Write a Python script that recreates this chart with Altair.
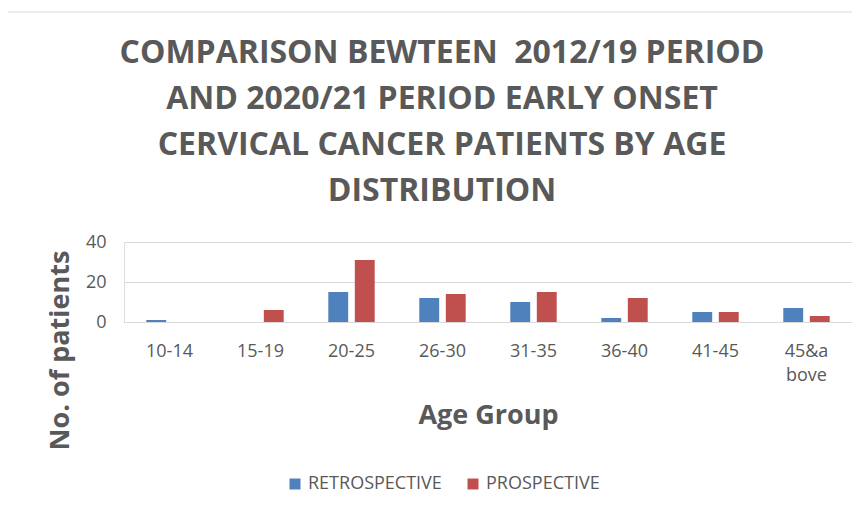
import altair as alt
import pandas as pd

categories = ["10-14", "15-19", "20-25", "26-30", "31-35", "36-40", "41-45", "45&above"]
retrospective = [1, 0, 15, 12, 10, 2, 5, 7]
prospective = [0, 6, 31, 14, 15, 12, 5, 3]
series = ["RETROSPECTIVE", "PROSPECTIVE"]
title_lines = [
    "COMPARISON BEWTEEN\u00a0 2012/19 PERIOD",
    "AND 2020/21 PERIOD EARLY ONSET",
    "CERVICAL CANCER PATIENTS BY AGE",
    "DISTRIBUTION",
]

rows = []
for c, r, p in zip(categories, retrospective, prospective):
    rows.append({"age": c, "series": series[0], "value": r})
    rows.append({"age": c, "series": series[1], "value": p})
df = pd.DataFrame(rows)

GRAY = "#595959"
FONT = "Open Sans"

bars = alt.Chart(df).mark_bar().encode(
    x=alt.X("age:N", sort=categories,
            scale=alt.Scale(paddingInner=0.49, paddingOuter=0.245),
            axis=alt.Axis(title="Age Group", labelAngle=0, labelFontSize=18,
                          labelColor=GRAY, labelFont=FONT, labelPadding=20,
                          labelExpr="datum.value == '45&above' ? ['45&a', 'bove'] : datum.value",
                          labelLineHeight=24,
                          ticks=False, domain=False,
                          titleFontSize=27, titleFont=FONT, titleFontWeight="bold",
                          titleColor=GRAY, titleX=364, titleY=93,
                          titleBaseline="middle", titleAlign="center")),
    xOffset=alt.XOffset("series:N", sort=series,
                        scale=alt.Scale(paddingInner=0.25, paddingOuter=0)),
    y=alt.Y("value:Q", scale=alt.Scale(domain=[0, 40]),
            axis=alt.Axis(title="No. of patients", values=[0, 20, 40],
                          labelFontSize=18, labelColor=GRAY, labelFont=FONT,
                          labelPadding=18, ticks=False, domain=False,
                          gridColor="#d9d9d9", gridWidth=1,
                          titleFontSize=27, titleFont=FONT, titleFontWeight="bold",
                          titleColor=GRAY, titleX=-64, titleY=108,
                          titleAngle=-90, titleBaseline="middle", titleAlign="center")),
    color=alt.Color("series:N", sort=series,
                    scale=alt.Scale(domain=series, range=["#4F81BD", "#C0504D"]),
                    legend=alt.Legend(title=None, orient="none", direction="horizontal",
                                      legendX=162, legendY=233,
                                      symbolType="square", symbolSize=121,
                                      labelFontSize=18, labelColor=GRAY, labelFont=FONT,
                                      labelOffset=4, columnPadding=22, labelLimit=300,
                                      symbolStrokeWidth=0)),
)

frame = alt.Chart(pd.DataFrame({"k": [0]})).mark_rect(
    fill=None, stroke="#d9d9d9", strokeWidth=1
).encode(x=alt.value(-120), x2=alt.value(760), y=alt.value(-230), y2=alt.value(300))

chart = alt.layer(frame, bars).properties(
    width=728, height=80,
    autosize=alt.AutoSizeParams(type="none"),
    padding={"left": 116, "top": 234, "right": 0, "bottom": 170},
    title=alt.TitleParams(text=title_lines, fontSize=32, font=FONT, fontWeight="bold",
                          color=GRAY, lineHeight=46, anchor="middle", dx=-46,
                          offset=-196),
).configure_view(stroke=None).configure(background="white")

chart.save("out.html", embed_options={"renderer": "svg", "actions": False})
